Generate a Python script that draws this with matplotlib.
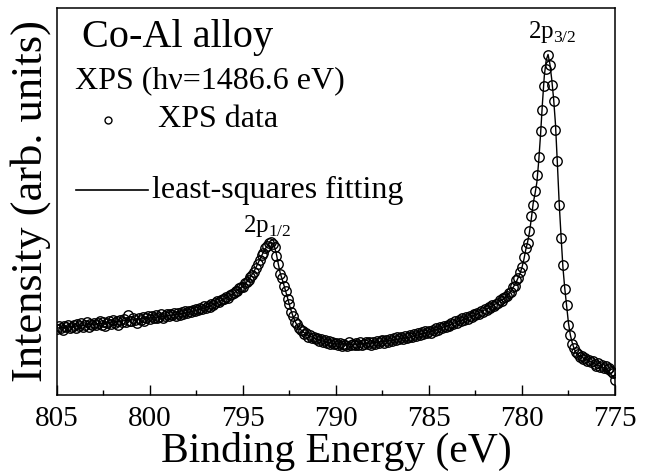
import matplotlib
matplotlib.use('Agg')
import matplotlib.pyplot as plt
import numpy as np
from matplotlib.ticker import MultipleLocator

plt.rcParams['font.family'] = 'Liberation Serif'
plt.rcParams['mathtext.fontset'] = 'custom'
plt.rcParams['mathtext.rm'] = 'Liberation Serif'

# measured energies: 805.0 -> 775.0 eV in 0.1 eV steps
energy = np.round(np.linspace(805.0, 775.0, 301), 1)

# XPS data (arb. units), one row per eV
intensity = [
    17.0, 17.8, 17.3, 16.9, 17.9, 17.5, 18.1, 17.2, 17.6, 18.2,
    17.4, 18.3, 17.9, 18.6, 17.6, 18.0, 18.8, 17.7, 18.4, 18.1,
    18.7, 18.0, 18.5, 19.1, 18.2, 18.9, 17.8, 18.6, 19.2, 18.4,
    19.3, 18.6, 19.0, 18.2, 19.5, 18.8, 19.7, 18.9, 20.8, 19.1,
    19.0, 19.8, 19.3, 18.7, 19.9, 19.5, 20.2, 19.2, 19.8, 20.3,
    19.6, 20.4, 19.9, 20.7, 19.8, 20.2, 20.9, 20.0, 20.5, 21.0,
    20.3, 20.9, 20.6, 21.3, 20.5, 21.1, 20.8, 21.5, 21.0, 21.7,
    21.2, 21.8, 21.4, 22.0, 21.6, 22.3, 21.9, 22.6, 22.2, 22.9,
    22.5, 23.1, 22.8, 23.6, 23.3, 23.8, 24.3, 24.0, 24.6, 24.9,
    24.7, 25.4, 25.1, 25.8, 26.0, 26.3, 26.9, 27.0, 27.6, 27.9,
    28.0, 28.9, 29.1, 29.8, 30.4, 31.0, 31.9, 32.8, 33.9, 35.0,
    36.1, 36.8, 37.9, 38.4, 39.3, 39.6, 39.0, 38.3, 36.0, 33.9,
    31.3, 30.2, 28.1, 26.9, 24.8, 23.4, 21.4, 20.4, 18.8, 18.3,
    17.2, 16.8, 16.6, 15.7, 15.9, 15.0, 15.5, 14.7, 15.1, 14.4,
    14.6, 13.9, 14.5, 13.7, 14.2, 13.4, 13.9, 13.1, 13.7, 13.2,
    13.5, 12.8, 13.4, 12.6, 13.3, 13.0, 12.7, 13.6, 12.9, 13.2,
    12.8, 13.5, 13.0, 13.7, 12.9, 13.3, 13.8, 13.1, 13.6, 13.0,
    13.8, 13.2, 14.0, 13.4, 13.9, 14.3, 13.5, 14.1, 13.7, 14.4,
    14.0, 14.6, 14.2, 14.9, 14.4, 15.1, 14.5, 15.3, 14.8, 15.0,
    15.4, 14.9, 15.7, 15.3, 16.0, 15.5, 16.2, 15.8, 16.5, 16.0,
    16.6, 16.1, 16.9, 16.5, 17.3, 16.9, 17.6, 17.2, 17.9, 17.5,
    18.2, 17.8, 18.6, 18.3, 19.0, 18.7, 19.5, 19.1, 19.9, 19.4,
    20.1, 19.7, 20.5, 20.2, 21.0, 20.6, 21.3, 21.0, 21.8, 21.5,
    22.3, 21.9, 22.7, 22.5, 23.3, 23.0, 23.6, 23.9, 24.5, 24.2,
    25.0, 25.4, 25.5, 26.4, 26.7, 27.9, 28.2, 29.6, 30.2, 31.8,
    33.2, 35.6, 37.9, 39.3, 42.5, 46.2, 49.0, 52.6, 56.8, 61.5,
    68.3, 73.6, 79.8, 84.2, 87.9, 85.3, 80.2, 76.0, 68.5, 60.5,
    49.0, 40.5, 33.6, 27.4, 23.3, 18.0, 15.6, 13.3, 12.2, 11.1,
    10.6, 9.8, 10.1, 9.2, 9.6, 8.8, 9.1, 8.4, 8.9, 8.0,
    7.6, 8.2, 7.3, 7.8, 6.9, 7.5, 6.6, 7.0, 6.2, 5.6,
    4.0,
]

# least-squares fit curve
fit_energy = [
    805.0, 804.0, 803.0, 802.0, 801.0, 800.0, 799.0, 798.0, 797.5, 797.0,
    796.5, 796.0, 795.5, 795.0, 794.8, 794.6, 794.4, 794.2, 794.0, 793.8,
    793.6, 793.5, 793.4, 793.3, 793.2, 793.1, 793.0, 792.9, 792.8, 792.7,
    792.6, 792.5, 792.4, 792.3, 792.2, 792.1, 792.0, 791.8, 791.5, 791.0,
    790.5, 790.0, 789.0, 788.0, 787.0, 786.0, 785.0, 784.0, 783.0, 782.5,
    782.0, 781.5, 781.0, 780.7, 780.5, 780.3, 780.1, 780.0, 779.9, 779.8,
    779.7, 779.6, 779.5, 779.4, 779.3, 779.2, 779.1, 779.0, 778.9, 778.8,
    778.7, 778.6, 778.5, 778.4, 778.3, 778.2, 778.1, 778.0, 777.9, 777.8,
    777.7, 777.6, 777.5, 777.4, 777.3, 777.2, 777.1, 777.0, 776.5, 776.0,
    775.5, 775.0,
]
fit_intensity = [
    17.3, 17.8, 18.3, 18.9, 19.4, 19.9, 20.5, 21.3, 21.9, 22.6,
    23.6, 24.8, 26.3, 28.2, 29.2, 30.5, 32.0, 34.0, 36.0, 37.8,
    39.2, 39.5, 39.2, 38.2, 36.3, 33.8, 31.5, 30.0, 28.4, 26.7,
    25.0, 23.2, 21.6, 20.2, 19.0, 18.1, 17.4, 16.4, 15.4, 14.4,
    13.6, 13.2, 13.1, 13.5, 14.1, 15.0, 16.3, 17.9, 19.8, 20.8,
    22.0, 23.3, 24.8, 26.2, 27.6, 29.3, 31.5, 33.0, 35.0, 37.5,
    39.5, 42.0, 45.5, 49.5, 52.0, 55.0, 60.5, 67.5, 75.5, 82.5,
    86.5, 88.0, 85.5, 81.5, 76.5, 70.0, 60.0, 49.5, 41.0, 33.0,
    27.5, 23.0, 18.5, 15.5, 13.5, 12.0, 11.0, 10.4, 9.0, 7.9,
    6.8, 4.2,
]

fig = plt.figure(figsize=(6.49, 4.72), dpi=100)
ax = fig.add_axes([57/649, 77/472, 558/649, 387/472])

ax.plot(fit_energy, fit_intensity, color='black', lw=1.0, zorder=2)
ax.plot(energy, intensity, 'o', mfc='none', mec='black', ms=6.8, mew=1.0, zorder=3)

ax.set_xlim(805, 775)
ax.set_ylim(0, 100)
ax.xaxis.set_major_locator(MultipleLocator(5))
ax.xaxis.set_minor_locator(MultipleLocator(2.5))
ax.tick_params(axis='x', which='both', direction='in', top=False, labelsize=21, pad=8)
ax.tick_params(axis='x', which='major', length=7, width=1)
ax.tick_params(axis='x', which='minor', length=3.5, width=1)
ax.set_yticks([])
for s in ax.spines.values():
    s.set_linewidth(1.1)

ax.set_xlabel('Binding Energy (eV)', fontsize=30, labelpad=0)
ax.set_ylabel('Intensity (arb. units)', fontsize=32, labelpad=4)

# annotations
ax.text(0.045, 0.899, 'Co-Al alloy', transform=ax.transAxes, fontsize=29, va='baseline')
ax.text(0.032, 0.793, 'XPS (h\u03bd=1486.6 eV)', transform=ax.transAxes, fontsize=23, va='baseline')
ax.plot([0.091], [0.711], 'o', mfc='none', mec='black', ms=5, mew=1, transform=ax.transAxes, clip_on=False)
ax.text(0.181, 0.693, 'XPS data', transform=ax.transAxes, fontsize=23, va='baseline')
ax.plot([0.034, 0.163], [0.530, 0.530], color='black', lw=1.2, transform=ax.transAxes)
ax.text(0.170, 0.508, 'least-squares fitting', transform=ax.transAxes, fontsize=23, va='baseline')

ax.text(795.0, 42.0, r'2p$_{\mathrm{1/2}}$', fontsize=18, va='baseline', ha='left')
ax.text(779.7, 92.3, r'2p$_{\mathrm{3/2}}$', fontsize=18, va='baseline', ha='left')

fig.savefig('out.png', dpi=100)
